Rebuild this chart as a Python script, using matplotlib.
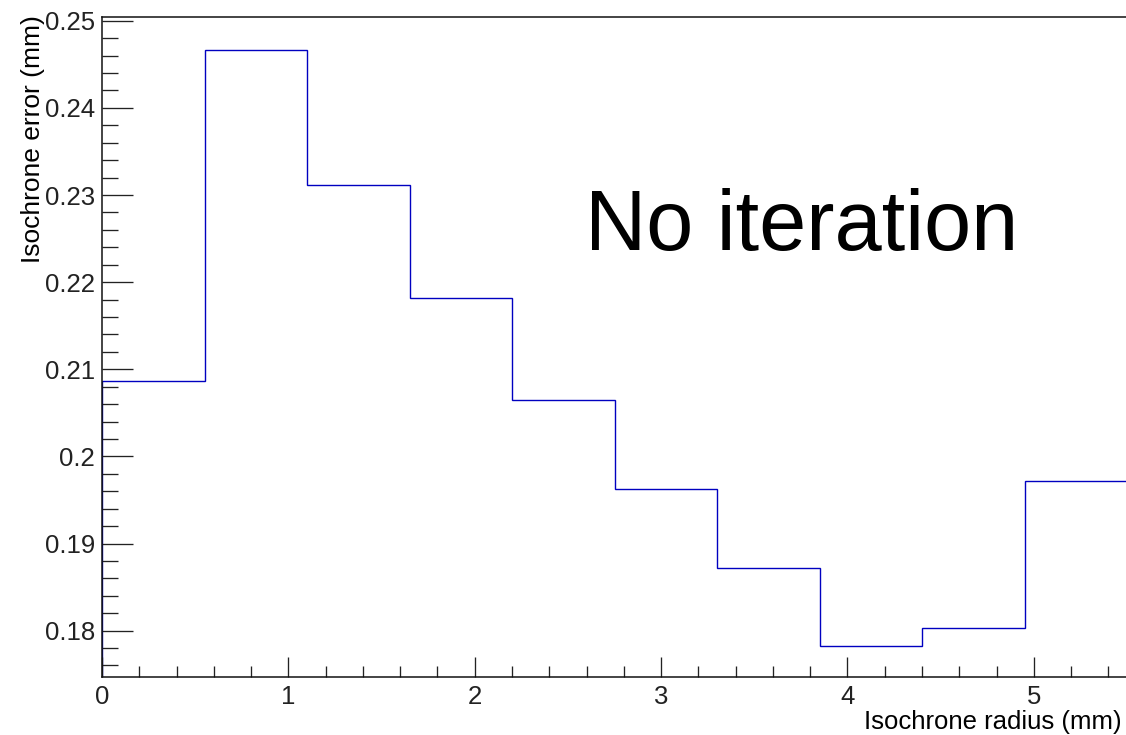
import matplotlib
matplotlib.use("Agg")
import matplotlib.pyplot as plt
from matplotlib.ticker import MultipleLocator

plt.rcParams['font.family'] = ['Liberation Sans', 'DejaVu Sans']

# histogram contents: isochrone error per radius bin
bin_edges = [0.0, 0.55, 1.1, 1.65, 2.2, 2.75, 3.3, 3.85, 4.4, 4.95, 5.5]
iso_error = [0.20866, 0.24664, 0.23115, 0.21815, 0.20647,
             0.19626, 0.18716, 0.17828, 0.18034, 0.19718]
y_ticks = [0.18, 0.19, 0.2, 0.21, 0.22, 0.23, 0.24, 0.25]
y_ticklabels = ['0.18', '0.19', '0.2', '0.21', '0.22', '0.23', '0.24', '0.25']

W, H = 1126, 735
fig = plt.figure(figsize=(W / 100, H / 100), dpi=100)
x0, x1, y0, y1 = 102, 1127, 17, 677
ax = fig.add_axes([x0 / W, 1 - y1 / H, (x1 - x0) / W, (y1 - y0) / H])

ax.stairs(iso_error, bin_edges, color='#0000c0', linewidth=1.0)

ax.set_xlim(0, 5.5)
ax.set_ylim(0.17468, 0.25043)

ax.xaxis.set_major_locator(MultipleLocator(1))
ax.xaxis.set_minor_locator(MultipleLocator(0.2))
ax.yaxis.set_minor_locator(MultipleLocator(0.002))
ax.set_yticks(y_ticks)
ax.set_yticklabels(y_ticklabels)

ax.tick_params(axis='both', which='both', direction='in', colors='#222222',
               labelsize=18.5, width=0.95, top=False, right=False)
ax.tick_params(axis='x', which='major', length=14.4, pad=6)
ax.tick_params(axis='x', which='minor', length=7.9)
ax.tick_params(axis='y', which='major', length=22.3, pad=5)
ax.tick_params(axis='y', which='minor', length=11.5)

for s in ax.spines.values():
    s.set_linewidth(1.1)
    s.set_color('#111111')

fig.text(1122 / W, 1 - 734 / H, 'Isochrone radius (mm)', ha='right', va='bottom',
         fontsize=18.5)
fig.text(33 / W, 1 - 15 / H, 'Isochrone error (mm)', ha='center', va='top',
         rotation=90, fontsize=19)

ax.text(585 / W, 1 - 250 / H, 'No iteration', transform=fig.transFigure,
        ha='left', va='baseline', fontsize=61)

fig.savefig('out.png', dpi=100)
